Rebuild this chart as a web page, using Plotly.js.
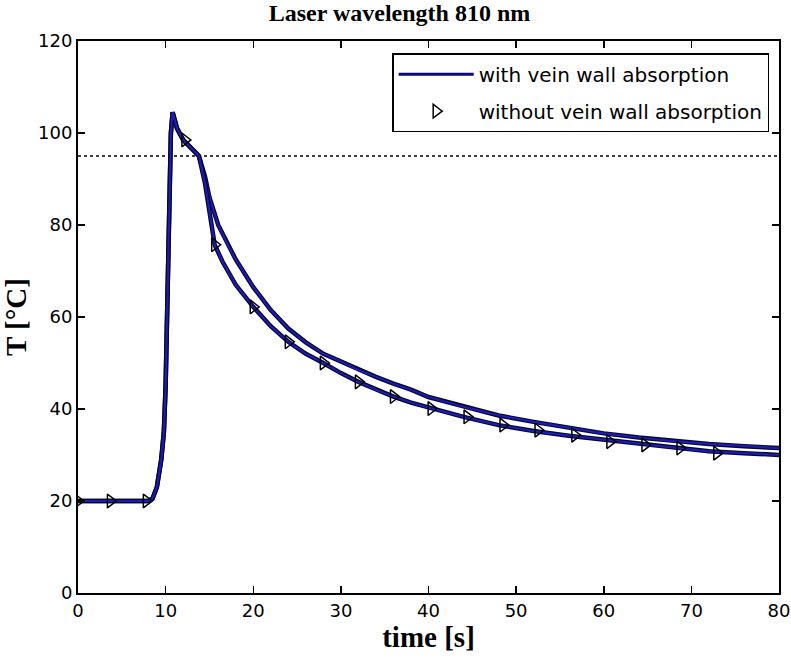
<!DOCTYPE html>
<html>
<head>
<meta charset="utf-8">
<script src="https://cdn.plot.ly/plotly-3.0.1.min.js"></script>
<style>html,body{margin:0;padding:0;background:#fff;}#chart{width:791px;height:662px;}</style>
</head>
<body>
<div id="chart"></div>
<script>
// Curve "with vein wall absorption" (upper in decay)
const tWith = [0,2,4,6,8,8.5,9,9.5,9.8,10,10.2,10.4,10.6,10.8,11.3,12,13,13.8,14.5,15,16,17,18,20,22,24,26,28,30,32,34,36,38,40,44,48,52,56,60,64,68,72,76,80];
const TWith = [20,20,20,20,20,20.5,23,29,35,45,65,88,100,104.5,101,98.5,96.5,95,90.5,86,80,76,72.5,66.5,61.5,57.5,54.5,52,50.3,48.5,47,45.5,44.2,42.6,40.5,38.6,37.2,35.9,34.7,33.8,33,32.4,31.9,31.5];
// Curve "without vein wall absorption" (lower in decay)
const tWithout = [0,2,4,6,8,8.5,9,9.5,9.8,10,10.2,10.4,10.6,10.8,11.3,12,13,13.8,14.5,15,15.6,16.5,18,20,22,24,26,28,30,32,34,36,38,40,44,48,52,56,60,64,68,72,76,80];
const TWithout = [20,20,20,20,20,20.5,23,29,35,45,65,88,100,104.5,101,98.5,96.5,95,89,83,75.7,72,67,62.2,58,54.6,52,50,47.8,45.9,44.2,42.7,41.4,40.3,38.3,36.5,35.2,34.2,33.3,32.4,31.6,30.8,30.4,30];
// Marker samples on the "without" curve
const tMarks = [0,3.7,7.8,12.2,15.6,20,24,28,32,36,40.3,44.4,48.5,52.5,56.7,60.7,64.7,68.7,72.9];
const TMarks = [20,20,20,98.5,75.7,62.2,54.6,50,45.9,42.7,40.1,38.3,36.5,35.4,34.3,32.9,32.2,31.5,30.4];
// Threshold line
const threshold = 95;
const xRange = [0, 80];
const yRange = [0, 120];
const xTicks = [0,10,20,30,40,50,60,70,80];
const yTicks = [0,20,40,60,80,100,120];

const edge = '#06062a';
const blue = '#1c1cb4';

const traces = [
  {x: xRange, y: [threshold, threshold], mode: 'lines', line: {color: '#000', width: 1.5, dash: 'dot'}, showlegend: false, hoverinfo: 'skip'},
  {x: tWith, y: TWith, mode: 'lines', line: {color: edge, width: 4.5}, showlegend: false},
  {x: tWith, y: TWith, mode: 'lines', line: {color: blue, width: 2.2}, showlegend: false},
  {x: tWithout, y: TWithout, mode: 'lines', line: {color: edge, width: 4.5}, showlegend: false},
  {x: tWithout, y: TWithout, mode: 'lines', line: {color: blue, width: 2.2}, showlegend: false},
  {x: tMarks, y: TMarks, mode: 'markers', name: 'without vein wall absorption', legendgroup: 'b', legendrank: 2,
   marker: {symbol: 'triangle-right-open', size: 12, color: '#000', line: {color: '#000', width: 1.5}}},
  {x: [null], y: [null], mode: 'lines', name: 'with vein wall absorption', legendgroup: 'a', legendrank: 1,
   line: {color: '#0a0a80', width: 3}}
];

const tickFont = {family: 'DejaVu Sans', size: 18, color: '#000'};
const layout = {
  width: 791, height: 662,
  margin: {l: 78, r: 12, t: 41, b: 69},
  paper_bgcolor: '#fff', plot_bgcolor: '#fff',
  title: {text: 'Laser wavelength 810 nm', font: {family: 'Liberation Serif', size: 24, color: '#000', weight: 'bold'},
          x: 0.505, xanchor: 'center', y: 0.981, yanchor: 'middle'},
  xaxis: {range: xRange, tickvals: xTicks, ticks: 'inside', ticklen: 7, tickcolor: '#000', tickwidth: 1.5,
          showline: true, linecolor: '#000', linewidth: 2, mirror: 'ticks', showgrid: false, zeroline: false,
          tickfont: tickFont,
          title: {text: 'time [s]', font: {family: 'Liberation Serif', size: 29, color: '#000', weight: 'bold'}, standoff: 6}},
  yaxis: {range: yRange, tickvals: yTicks, ticks: 'inside', ticklen: 7, tickcolor: '#000', tickwidth: 1.5,
          showline: true, linecolor: '#000', linewidth: 2, mirror: 'ticks', showgrid: false, zeroline: false,
          tickfont: tickFont,
          title: {text: 'T [°C]', font: {family: 'Liberation Serif', size: 29, color: '#000', weight: 'bold'}, standoff: 14}},
  legend: {x: 0.986, xanchor: 'right', y: 0.978, yanchor: 'top', bgcolor: '#fff', bordercolor: '#000', borderwidth: 1.5,
           font: {family: 'DejaVu Sans', size: 20, color: '#000'}, tracegroupgap: 8, itemwidth: 75, traceorder: 'grouped'},
  showlegend: true
};

Plotly.newPlot('chart', traces, layout, {displayModeBar: false, staticPlot: true});
</script>
</body>
</html>
